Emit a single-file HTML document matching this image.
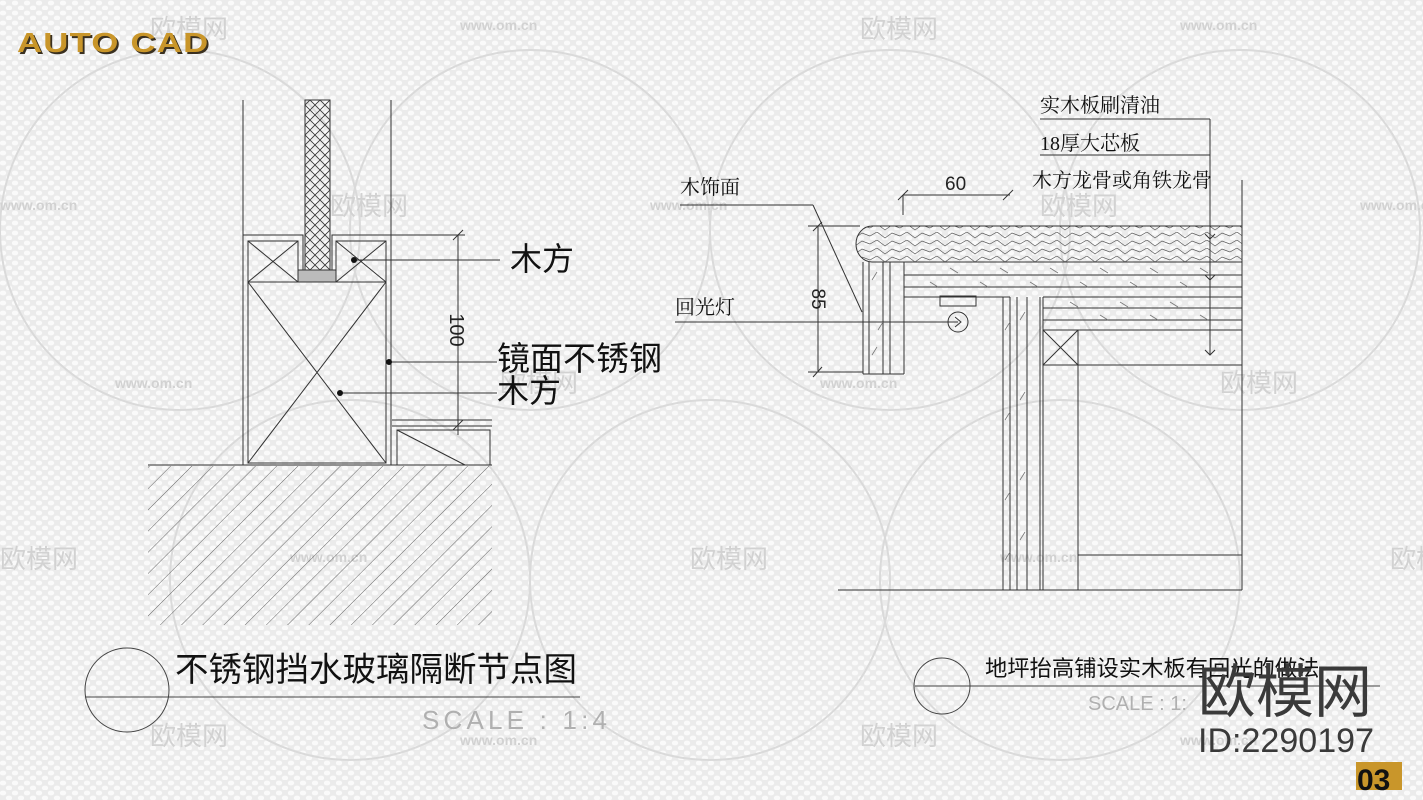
<!DOCTYPE html>
<html><head><meta charset="utf-8">
<style>
html,body{margin:0;padding:0;}
body{width:1423px;height:800px;overflow:hidden;background:#ebebeb;}
svg{display:block;}
.cn{font-family:"Liberation Sans","Noto Sans CJK SC",sans-serif;}
.sf{font-family:"Liberation Serif","Noto Serif CJK SC",serif;}
</style></head><body>
<svg width="1423" height="800" viewBox="0 0 1423 800" xmlns="http://www.w3.org/2000/svg">
<defs>
<pattern id="dots" width="12" height="10" patternUnits="userSpaceOnUse">
<ellipse cx="3" cy="3" rx="3.2" ry="2.4" fill="#fafafa"/>
<ellipse cx="9" cy="8" rx="3.2" ry="2.4" fill="#fafafa"/>
</pattern>
<pattern id="diag" width="15" height="15" patternUnits="userSpaceOnUse" patternTransform="rotate(45)">
<line x1="0" y1="0" x2="0" y2="15" stroke="#555" stroke-width="0.9"/>
</pattern>
<pattern id="cross" width="10" height="10" patternUnits="userSpaceOnUse">
<path d="M0 0L10 10M10 0L0 10" stroke="#333" stroke-width="0.8"/>
</pattern>
<pattern id="wave" width="30" height="8" patternUnits="userSpaceOnUse">
<path d="M0 4 L7 0 L15 6 L22 1 L30 4" fill="none" stroke="#555" stroke-width="0.7"/>
</pattern>
</defs>
<rect width="1423" height="800" fill="#ebebeb"/>
<rect width="1423" height="800" fill="url(#dots)"/>
<g fill="none" stroke="#dadada" stroke-width="2">
<circle cx="180" cy="230" r="180"/><circle cx="530" cy="230" r="180"/>
<circle cx="890" cy="230" r="180"/><circle cx="1240" cy="230" r="180"/>
<circle cx="350" cy="580" r="180"/><circle cx="710" cy="580" r="180"/><circle cx="1060" cy="580" r="180"/>
</g>
<g class="cn" fill="#d2d2d2" font-size="26">
<text x="150" y="38">欧模网</text><text x="860" y="38">欧模网</text>
<text x="330" y="215">欧模网</text><text x="1040" y="215">欧模网</text>
<text x="500" y="392">欧模网</text><text x="1220" y="392">欧模网</text>
<text x="0" y="568">欧模网</text><text x="690" y="568">欧模网</text><text x="1390" y="568">欧模网</text>
<text x="150" y="745">欧模网</text><text x="860" y="745">欧模网</text>
</g>
<g font-family="Liberation Sans,sans-serif" font-weight="bold" fill="#d2d2d2" font-size="14">
<text x="460" y="30">www.om.cn</text><text x="1180" y="30">www.om.cn</text>
<text x="0" y="210">www.om.cn</text><text x="650" y="210">www.om.cn</text><text x="1360" y="210">www.om.cn</text>
<text x="115" y="388">www.om.cn</text><text x="820" y="388">www.om.cn</text>
<text x="290" y="562">www.om.cn</text><text x="1000" y="562">www.om.cn</text>
<text x="460" y="745">www.om.cn</text><text x="1180" y="745">www.om.cn</text>
</g>

<g transform="translate(17,52) scale(1.24,1)">
<text x="1.5" y="2" font-family="Liberation Sans,sans-serif" font-weight="bold" font-size="28" fill="#3a3020" letter-spacing="1">AUTO CAD</text>
<text x="0" y="0" font-family="Liberation Sans,sans-serif" font-weight="bold" font-size="28" fill="#c9962a" letter-spacing="1">AUTO CAD</text>
</g>

<g stroke="#333" stroke-width="1" fill="none">
<line x1="243" y1="100" x2="243" y2="465"/>
<line x1="391" y1="100" x2="391" y2="465"/>
<rect x="305" y="100" width="25" height="178" fill="url(#cross)"/>
<polyline points="243,235 303,235 303,278 332,278 332,235 391,235"/>
<rect x="248" y="241" width="50" height="41"/>
<path d="M248 241L298 282M298 241L248 282"/>
<rect x="336" y="241" width="50" height="41"/>
<path d="M336 241L386 282M386 241L336 282"/>
<rect x="298" y="270" width="38" height="12" fill="#bbb"/>
<rect x="248" y="282" width="138" height="181"/>
<path d="M248 282L386 463M386 282L248 463"/>
<line x1="148" y1="465" x2="492" y2="465"/>
<rect x="148" y="466" width="344" height="159" fill="url(#diag)" stroke="none"/>
<line x1="392" y1="420" x2="492" y2="420"/>
<line x1="392" y1="426" x2="492" y2="426"/>
<rect x="397" y="430" width="93" height="35"/>
<line x1="397" y1="430" x2="465" y2="465"/>
<line x1="458" y1="235" x2="458" y2="435"/>
<line x1="391" y1="235" x2="465" y2="235"/>
<line x1="453" y1="240" x2="463" y2="230"/><line x1="453" y1="430" x2="463" y2="420"/>
<line x1="354" y1="260" x2="500" y2="260"/>
<line x1="389" y1="362" x2="497" y2="362"/>
<line x1="340" y1="393" x2="497" y2="393"/>
</g>
<g fill="#111"><circle cx="354" cy="260" r="3"/><circle cx="389" cy="362" r="3"/><circle cx="340" cy="393" r="3"/></g>
<g class="cn" fill="#111">
<text x="510" y="270" font-size="32">木方</text>
<text x="497" y="370" font-size="33">镜面不锈钢</text>
<text x="497" y="402" font-size="32">木方</text>
</g>
<text transform="translate(450,330) rotate(90)" text-anchor="middle" font-family="Liberation Sans,sans-serif" font-size="20" fill="#222">100</text>
<g stroke="#444" fill="none" stroke-width="1">
<circle cx="127" cy="690" r="42"/>
<line x1="85" y1="697" x2="580" y2="697"/>
</g>
<text x="175" y="681" class="cn" font-size="33.5" fill="#111">不锈钢挡水玻璃隔断节点图</text>
<text x="422" y="729" font-family="Liberation Sans,sans-serif" font-size="26" fill="#b0b0b0" textLength="185">SCALE :   1:4</text>

<g stroke="#333" stroke-width="1" fill="none">
<path d="M872 226 H1242 V262 H872 A16 18 0 0 1 872 226 Z" fill="url(#wave)"/>
<line x1="904" y1="275" x2="1242" y2="275"/>
<line x1="904" y1="287" x2="1242" y2="287"/>
<line x1="904" y1="262" x2="904" y2="297"/>
<line x1="904" y1="297" x2="1010" y2="297"/>
<line x1="1043" y1="297" x2="1242" y2="297"/>
<line x1="1043" y1="308" x2="1242" y2="308"/>
<line x1="1043" y1="320" x2="1242" y2="320"/>
<line x1="1043" y1="330" x2="1242" y2="330"/>
<line x1="1043" y1="297" x2="1043" y2="590"/>
<rect x="1043" y="330" width="35" height="35"/>
<path d="M1043 330L1078 365M1078 330L1043 365"/>
<line x1="1078" y1="365" x2="1242" y2="365"/>
<line x1="1078" y1="365" x2="1078" y2="590"/>
<line x1="1078" y1="555" x2="1242" y2="555"/>
<line x1="1003" y1="297" x2="1003" y2="590"/>
<line x1="1010" y1="297" x2="1010" y2="590"/>
<line x1="1017" y1="297" x2="1017" y2="590"/>
<line x1="1027" y1="297" x2="1027" y2="590"/>
<line x1="1040" y1="297" x2="1040" y2="590"/>
<line x1="1242" y1="180" x2="1242" y2="590"/>
<line x1="838" y1="590" x2="1242" y2="590"/>
<line x1="863" y1="262" x2="863" y2="374"/>
<line x1="869" y1="262" x2="869" y2="374"/>
<line x1="883" y1="262" x2="883" y2="374"/>
<line x1="890" y1="262" x2="890" y2="374"/>
<line x1="863" y1="374" x2="904" y2="374"/>
<line x1="904" y1="297" x2="904" y2="374"/>
<rect x="940" y="296" width="36" height="10"/>
<circle cx="958" cy="322" r="10"/>
<path d="M955 317L961 322L955 327"/>
<line x1="675" y1="322" x2="958" y2="322"/>
<line x1="818" y1="226" x2="818" y2="372"/>
<line x1="808" y1="226" x2="860" y2="226"/>
<line x1="808" y1="372" x2="863" y2="372"/>
<line x1="813" y1="231" x2="822" y2="222"/><line x1="813" y1="377" x2="822" y2="367"/>
<line x1="903" y1="195" x2="1010" y2="195"/>
<line x1="903" y1="195" x2="903" y2="215"/>
<line x1="898" y1="200" x2="908" y2="190"/><line x1="1003" y1="200" x2="1013" y2="190"/>
<line x1="680" y1="205" x2="813" y2="205"/>
<line x1="813" y1="205" x2="862" y2="312"/>
<line x1="1040" y1="119" x2="1210" y2="119"/>
<line x1="1040" y1="155" x2="1210" y2="155"/>
<line x1="1210" y1="119" x2="1210" y2="355"/>
<path d="M1205 234L1210 239L1215 234M1205 275L1210 280L1215 275M1205 350L1210 355L1215 350"/>
</g>
<g stroke="#777" stroke-width="0.8">
<path d="M872 280l5-8M878 330l5-8M872 355l5-8M1005 330l5-8M1020 320l5-8M1005 420l5-8M1020 400l5-8M1005 500l5-8M1020 480l5-8M1005 560l5-8M1020 540l5-8"/>
<path d="M950 268l8 5M1000 268l8 5M1050 268l8 5M1100 268l8 5M1150 268l8 5M1200 268l8 5M930 282l8 5M980 282l8 5M1030 282l8 5M1080 282l8 5M1130 282l8 5M1180 282l8 5M1070 302l8 5M1120 302l8 5M1170 302l8 5M1100 315l8 5M1150 315l8 5M1200 315l8 5"/>
</g>
<g class="sf" font-size="20" fill="#111">
<text x="1040" y="112">实木板刷清油</text>
<text x="1040" y="150">18厚大芯板</text>
<text x="1032" y="187">木方龙骨或角铁龙骨</text>
<text x="680" y="194">木饰面</text>
<text x="675" y="314">回光灯</text>
</g>
<text x="945" y="190" font-family="Liberation Sans,sans-serif" font-size="19" fill="#222">60</text>
<text transform="translate(812,299) rotate(90)" text-anchor="middle" font-family="Liberation Sans,sans-serif" font-size="19" fill="#222">85</text>
<g stroke="#444" fill="none" stroke-width="1">
<circle cx="942" cy="686" r="28"/>
<line x1="915" y1="686" x2="1380" y2="686"/>
</g>
<text x="985" y="676" class="cn" font-size="22.3" fill="#111">地坪抬高铺设实木板有回光的做法</text>
<text x="1088" y="710" font-family="Liberation Sans,sans-serif" font-size="20" fill="#b0b0b0">SCALE :    1:</text>

<text x="1198" y="712" class="cn" font-size="58" fill="#3a3a3a">欧模网</text>
<text x="1198" y="752" font-family="Liberation Sans,sans-serif" font-size="34" fill="#3a3a3a" textLength="176">ID:2290197</text>
<rect x="1356" y="762" width="46" height="28" fill="#c9962a"/>
<text x="1357" y="790" font-family="Liberation Sans,sans-serif" font-weight="bold" font-size="30" fill="#111">03</text>
</svg>
</body></html>
